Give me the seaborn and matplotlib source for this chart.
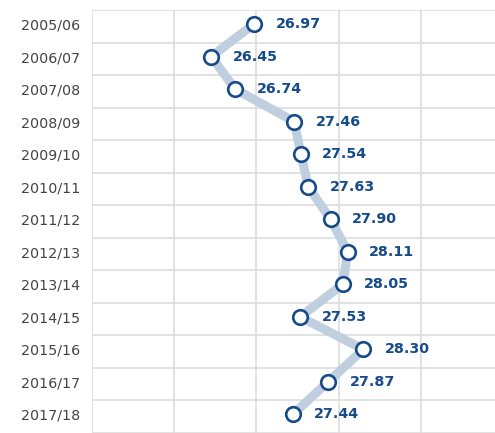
import numpy as np
import pandas as pd
import matplotlib
matplotlib.use("Agg")
import matplotlib.pyplot as plt
import seaborn as sns

seasons = ["2005/06", "2006/07", "2007/08", "2008/09", "2009/10", "2010/11", "2011/12",
           "2012/13", "2013/14", "2014/15", "2015/16", "2016/17", "2017/18"]
values = [26.97, 26.45, 26.74, 27.46, 27.54, 27.63, 27.90,
          28.11, 28.05, 27.53, 28.30, 27.87, 27.44]

df = pd.DataFrame({"season": seasons, "value": values})
df["pos"] = np.arange(len(df))

sns.set_theme(style="white")
plt.rcParams["font.family"] = ["DejaVu Sans"]

fig = plt.figure(figsize=(4.95, 4.33), dpi=100)
ax = fig.add_axes([92 / 495, 0, 403 / 495, 423 / 433])

line_col = "#c0cfdf"
dark = "#164a8a"

sns.lineplot(data=df, x="value", y="pos", sort=False, ax=ax,
             color=line_col, linewidth=6.5, zorder=2)
sns.scatterplot(data=df, x="value", y="pos", ax=ax, s=110, color="white",
                edgecolor=dark, linewidth=1.9, zorder=3)

for v, p in zip(df["value"], df["pos"]):
    ax.text(v + 0.26, p, f"{v:.2f}", color=dark, fontweight="bold",
            fontsize=10.3, va="center", ha="left")

ax.set_xlim(25, 29.9)
ax.set_ylim(12.46, -0.43)
ax.set_xticks([25, 26, 27, 28, 29])
ax.set_xticklabels([])
ax.set_yticks(df["pos"])
ax.set_yticklabels(seasons)
ax.set_yticks(np.arange(len(df) + 1) - 0.43, minor=True)
ax.tick_params(axis="y", which="both", length=0, pad=8.5, labelsize=10.3, labelcolor="#444444")
ax.tick_params(axis="x", length=0)
ax.grid(True, axis="x", color="#dddddd", linewidth=1.2)
ax.grid(True, axis="y", which="minor", color="#dddddd", linewidth=1.2)
ax.grid(False, axis="y", which="major")
ax.set_axisbelow(True)
for s in ax.spines.values():
    s.set_visible(False)
ax.set_xlabel("")
ax.set_ylabel("")

fig.savefig("out.png", dpi=100)
